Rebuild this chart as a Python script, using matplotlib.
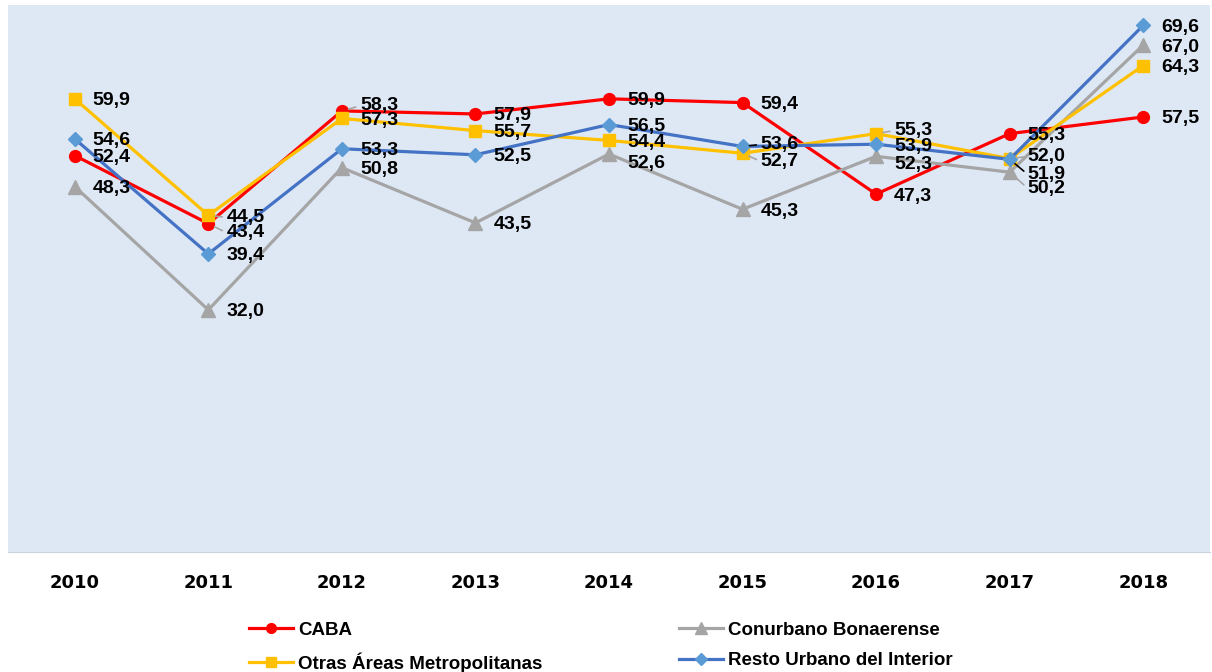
import matplotlib
matplotlib.use("Agg")
import matplotlib.pyplot as plt
from matplotlib.lines import Line2D

years = ["2010", "2011", "2012", "2013", "2014", "2015", "2016", "2017", "2018"]
caba = [52.4, 43.4, 58.3, 57.9, 59.9, 59.4, 47.3, 55.3, 57.5]
conurbano = [48.3, 32.0, 50.8, 43.5, 52.6, 45.3, 52.3, 50.2, 67.0]
otras = [59.9, 44.5, 57.3, 55.7, 54.4, 52.7, 55.3, 52.0, 64.3]
resto = [54.6, 39.4, 53.3, 52.5, 56.5, 53.6, 53.9, 51.9, 69.6]

series_names = ["CABA", "Conurbano Bonaerense", "Otras Áreas Metropolitanas", "Resto Urbano del Interior"]
series_vals = [caba, conurbano, otras, resto]

# style: line color, marker color, marker, marker size
styles = [
    ("#FF0000", "#FF0000", "o", 8.5),
    ("#A5A5A5", "#A5A5A5", "^", 9.5),
    ("#FFC000", "#FFC000", "s", 8.5),
    ("#4472C4", "#5B9BD5", "D", 7.5),
]

# label nudges in image pixels (positive = down), and which get leader lines
nudges = {
    (0, 1): 7, (0, 2): -7,
    (1, 4): 7, (1, 6): 6, (1, 7): 14,
    (2, 5): 6, (2, 6): -5, (2, 7): -4,
    (3, 5): -4, (3, 7): 13,
}
leaders = {
    (2, 1): "#A5A5A5", (0, 1): "#A5A5A5", (0, 2): "#A5A5A5",
    (3, 5): "black", (2, 5): "#A5A5A5", (2, 6): "#A5A5A5",
    (2, 7): "#A5A5A5", (3, 7): "black", (1, 7): "#A5A5A5",
}

px = 0.72  # points per pixel at dpi 100

fig = plt.figure(figsize=(12.12, 6.72), dpi=100)
ax = fig.add_axes([8 / 1212, 120 / 672, 1202 / 1212, 547 / 672])
ax.set_facecolor("#DEE8F5")

x = list(range(len(years)))
for i, (name, vals) in enumerate(zip(series_names, series_vals)):
    lc, mc, mk, ms = styles[i]
    ax.plot(x, vals, color=lc, lw=2.3, marker=mk, ms=ms, mfc=mc, mec=mc, zorder=3 + i)

for i, vals in enumerate(series_vals):
    for j, v in enumerate(vals):
        dy = nudges.get((i, j), 0) + 2
        lab = f"{v:.1f}".replace(".", ",")
        kw = {}
        if (i, j) in leaders:
            kw["arrowprops"] = dict(arrowstyle="-", color=leaders[(i, j)], lw=1.2,
                                    shrinkA=1, shrinkB=5, relpos=(0, 0.5))
        ax.annotate(lab, (j, v), xytext=(18 * px, -dy * px), textcoords="offset points",
                    ha="left", va="center", fontsize=14, fontweight="bold",
                    family="Liberation Sans", color="black", zorder=10, **kw)

ax.set_xlim(-0.5, 8.5)
ax.set_ylim(0, 72.3)
ax.set_yticks([])
ax.set_xticks(x)
ax.set_xticklabels(years, fontsize=13, fontweight="bold", family="DejaVu Sans")
ax.tick_params(axis="x", length=0, pad=16)
for s in ["top", "left", "right"]:
    ax.spines[s].set_visible(False)
ax.spines["bottom"].set_color("#C9D3DF")

handles = []
for i, name in enumerate(series_names):
    lc, mc, mk, ms = styles[i]
    handles.append(Line2D([], [], color=lc, lw=2.3, marker=mk, ms=ms - 1.5, mfc=mc, mec=mc, label=name))
order = [handles[0], handles[2], handles[1], handles[3]]
fig.legend(handles=order, loc="upper left", bbox_to_anchor=(232 / 1212, 1 - 605 / 672),
           ncol=2, frameon=False, handlelength=2.35, handletextpad=0.27,
           columnspacing=7.3, labelspacing=0.7,
           prop=dict(family="Liberation Sans", weight="bold", size=13.5))

fig.savefig("out.png", dpi=100)
